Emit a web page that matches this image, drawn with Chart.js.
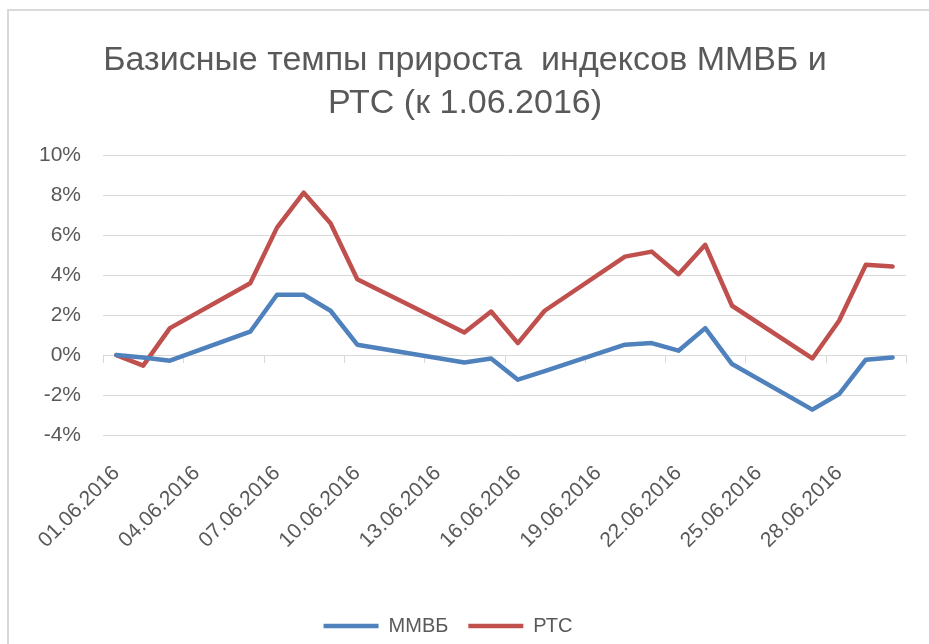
<!DOCTYPE html>
<html>
<head>
<meta charset="utf-8">
<script src="https://cdn.jsdelivr.net/npm/chart.js@4/dist/chart.umd.min.js"></script>
<style>
  html, body { margin: 0; padding: 0; background: #ffffff; overflow: hidden; }
  #frame { position: absolute; left: 7px; top: 9px; width: 960px; height: 700px; border: 2px solid #d9d9d9; box-sizing: border-box; }
  #wrap { position: absolute; left: 0; top: 0; width: 929px; height: 644px; }
</style>
</head>
<body>
<div id="frame"></div>
<div id="wrap"><canvas id="c" width="929" height="644"></canvas></div>
<script>
const titleLines = ['Базисные темпы прироста  индексов ММВБ и', 'РТС (к 1.06.2016)'];
const seriesNames = ['ММВБ', 'РТС'];
const tradingDates = ['01.06.2016','02.06.2016','03.06.2016','06.06.2016','07.06.2016','08.06.2016','09.06.2016','10.06.2016','14.06.2016','15.06.2016','16.06.2016','17.06.2016','20.06.2016','21.06.2016','22.06.2016','23.06.2016','24.06.2016','27.06.2016','28.06.2016','29.06.2016','30.06.2016'];
const mmvbValues = [0, -0.12, -0.28, 1.17, 3.02, 3.02, 2.22, 0.52, -0.37, -0.17, -1.23, -0.8, 0.52, 0.6, 0.22, 1.35, -0.45, -2.73, -1.95, -0.23, -0.12];
const rtsValues = [0, -0.53, 1.35, 3.6, 6.38, 8.13, 6.6, 3.8, 1.13, 2.18, 0.6, 2.22, 4.93, 5.18, 4.05, 5.52, 2.47, -0.17, 1.72, 4.52, 4.43];
const xTickLabels = ['01.06.2016','04.06.2016','07.06.2016','10.06.2016','13.06.2016','16.06.2016','19.06.2016','22.06.2016','25.06.2016','28.06.2016'];
const yTicks = [-4, -2, 0, 2, 4, 6, 8, 10];

const dayOf = s => parseInt(s.slice(0, 2), 10);
const xTickDays = xTickLabels.map(dayOf);
const toPoints = vals => tradingDates.map((d, i) => ({ x: dayOf(d), y: vals[i] }));

const FONT = "'Liberation Sans', Arial, sans-serif";
const GRID = '#d9d9d9';
const TEXT = '#595959';

const zeroTickMarks = {
  id: 'zeroTickMarks',
  beforeDatasetsDraw(chart) {
    const xs = chart.scales.x, ys = chart.scales.y;
    const y0 = ys.getPixelForValue(0);
    const ctx = chart.ctx;
    const bounds = xTickDays.map(d => d - 0.5).concat([xs.max]);
    ctx.save();
    ctx.strokeStyle = GRID;
    ctx.lineWidth = 1;
    ctx.beginPath();
    bounds.forEach(b => {
      const x = Math.round(xs.getPixelForValue(b)) + 0.5;
      ctx.moveTo(x, y0);
      ctx.lineTo(x, y0 + 8);
    });
    ctx.stroke();
    ctx.restore();
  }
};

const legendShift = {
  id: 'legendShift',
  afterLayout(chart) {
    if (chart.legend) { chart.legend.left -= 17; chart.legend.right -= 17; }
  }
};

new Chart(document.getElementById('c'), {
  type: 'line',
  data: {
    datasets: [
      { label: seriesNames[0], data: toPoints(mmvbValues), borderColor: '#4F81BD', backgroundColor: '#4F81BD', borderWidth: 4.5, pointRadius: 0, borderJoinStyle: 'round', borderCapStyle: 'round', tension: 0 },
      { label: seriesNames[1], data: toPoints(rtsValues), borderColor: '#C0504D', backgroundColor: '#C0504D', borderWidth: 4.5, pointRadius: 0, borderJoinStyle: 'round', borderCapStyle: 'round', tension: 0 }
    ]
  },
  options: {
    responsive: false,
    animation: false,
    events: [],
    layout: { padding: { top: 10, left: 24, right: 23, bottom: -2 } },
    plugins: {
      title: {
        display: true,
        text: titleLines,
        color: TEXT,
        font: { family: FONT, size: 34, weight: 'normal', lineHeight: 1.24 },
        padding: { top: 30, bottom: 31 }
      },
      legend: {
        position: 'bottom',
        labels: {
          color: TEXT,
          font: { family: FONT, size: 20 },
          usePointStyle: true,
          pointStyle: 'line',
          pointStyleWidth: 55,
          padding: 20
        }
      },
      tooltip: { enabled: false }
    },
    scales: {
      x: {
        type: 'linear',
        min: 0.5,
        max: 30.5,
        afterBuildTicks: s => { s.ticks = xTickDays.map(v => ({ value: v })); },
        afterFit: s => { s.height = 161; },
        grid: { display: false, drawTicks: false },
        border: { display: false },
        ticks: {
          autoSkip: false,
          maxRotation: 45,
          minRotation: 45,
          padding: 26,
          color: TEXT,
          font: { family: FONT, size: 21 },
          callback: v => { const i = xTickDays.indexOf(v); return i >= 0 ? xTickLabels[i] : ''; }
        }
      },
      y: {
        min: -4,
        max: 10,
        afterBuildTicks: s => { s.ticks = yTicks.map(v => ({ value: v })); },
        afterFit: s => { s.width = 79; },
        grid: { color: GRID, lineWidth: 1, drawTicks: false },
        border: { display: false },
        ticks: {
          padding: 22,
          color: TEXT,
          font: { family: FONT, size: 21 },
          callback: v => v + '%'
        }
      }
    }
  },
  plugins: [zeroTickMarks, legendShift]
});
</script>
</body>
</html>
